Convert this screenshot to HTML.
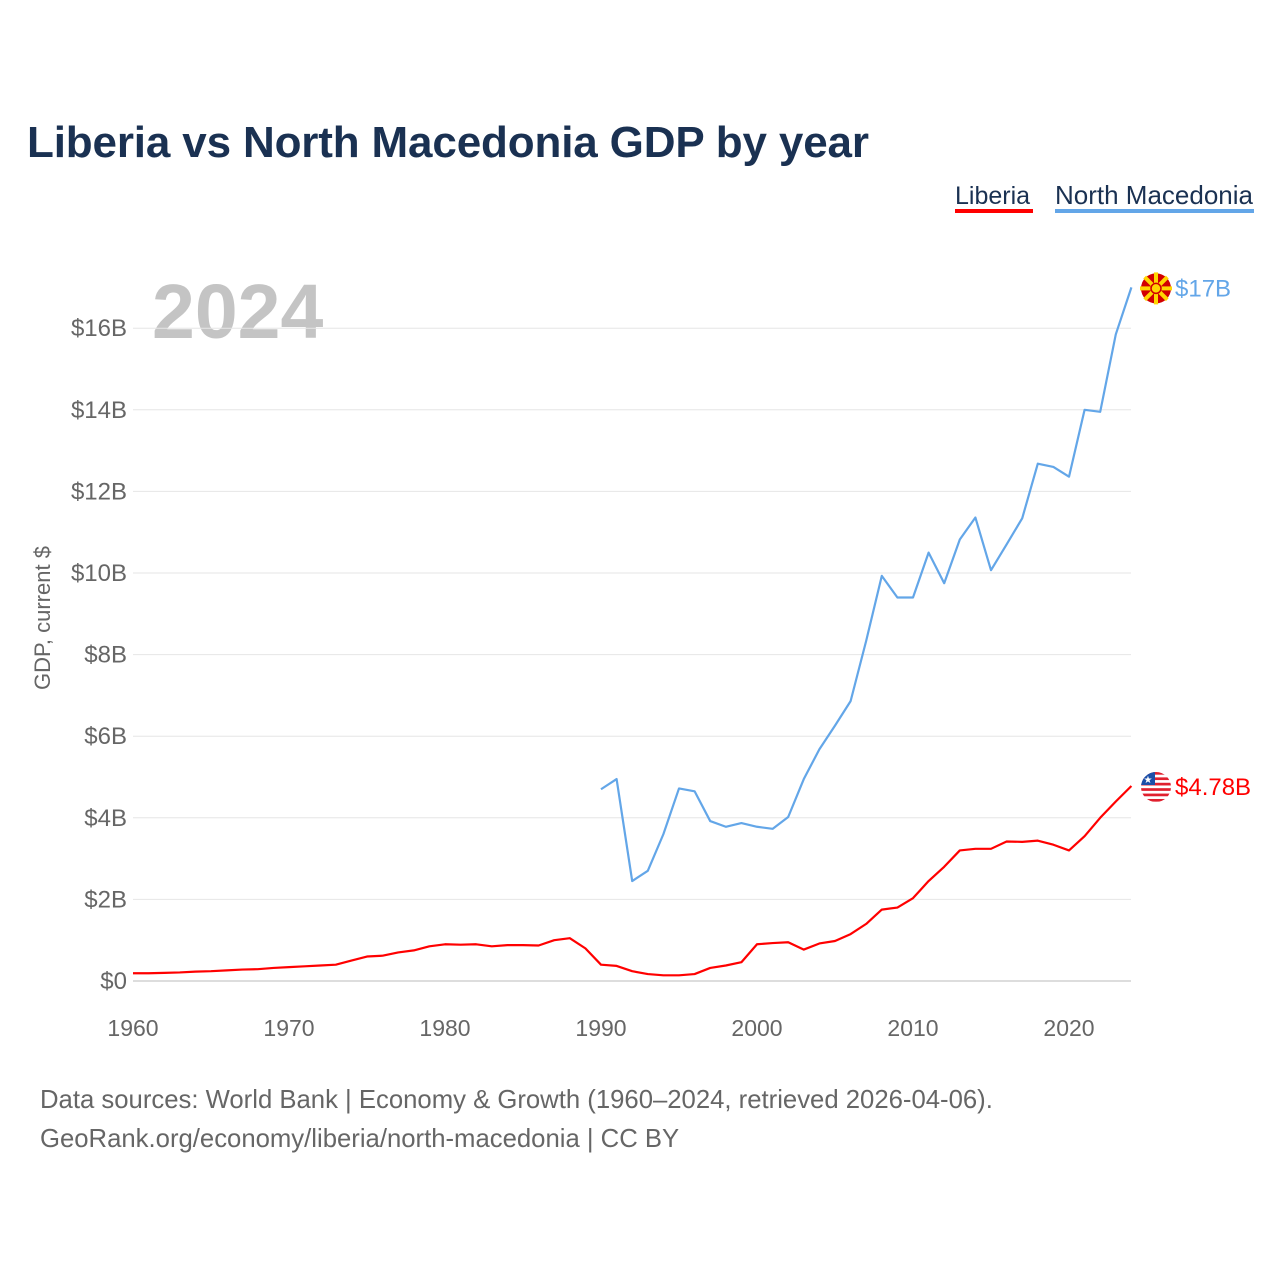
<!DOCTYPE html>
<html><head><meta charset="utf-8"><style>
body{margin:0;background:#fff;font-family:"Liberation Sans",sans-serif;}
svg{display:block}
</style></head><body>
<svg id="c" width="1280" height="1280" xmlns="http://www.w3.org/2000/svg">
<text x="27" y="157" font-size="44" font-weight="bold" fill="#1a3152" textLength="842">Liberia vs North Macedonia GDP by year</text>
<g><text x="955" y="204" font-size="25" fill="#1a3152">Liberia</text><rect x="955" y="209" width="78" height="4" fill="#ff0000"/></g>
<g><text x="1055" y="204" font-size="26" fill="#1a3152">North Macedonia</text><rect x="1055" y="209" width="199" height="4" fill="#63a6e8"/></g>
<text x="152" y="338" font-size="77" font-weight="bold" fill="#c4c4c4">2024</text>
<text transform="translate(50,618) rotate(-90)" text-anchor="middle" font-size="22" fill="#666">GDP, current $</text>
<g id="grid"></g><g id="series"></g>
<text x="40" y="1108" font-size="25.7" fill="#666">Data sources: World Bank | Economy &amp; Growth (1960–2024, retrieved 2026-04-06).</text>
<text x="40" y="1147" font-size="25.7" fill="#666">GeoRank.org/economy/liberia/north-macedonia | CC BY</text>
</svg>
<script>
const yTicks=[0,2,4,6,8,10,12,14,16];
const xTicks=[1960,1970,1980,1990,2000,2010,2020];
const liberiaYears=[];for(let y=1960;y<=2024;y++)liberiaYears.push(y);
const liberia=[0.19,0.19,0.2,0.21,0.23,0.24,0.26,0.28,0.29,0.32,0.34,0.36,0.38,0.4,0.5,0.6,0.62,0.7,0.75,0.85,0.9,0.89,0.9,0.85,0.88,0.88,0.87,1.0,1.05,0.8,0.4,0.37,0.24,0.17,0.14,0.14,0.17,0.32,0.38,0.46,0.9,0.93,0.95,0.77,0.92,0.98,1.15,1.4,1.75,1.8,2.03,2.45,2.8,3.2,3.24,3.24,3.42,3.41,3.44,3.34,3.2,3.55,4.0,4.4,4.78];
const macYears=[];for(let y=1990;y<=2024;y++)macYears.push(y);
const macedonia=[4.7,4.95,2.45,2.7,3.6,4.72,4.65,3.92,3.78,3.87,3.78,3.73,4.02,4.95,5.68,6.26,6.86,8.34,9.93,9.4,9.4,10.5,9.75,10.82,11.36,10.07,10.7,11.34,12.68,12.6,12.36,14.0,13.95,15.85,17.0];
const NS="http://www.w3.org/2000/svg";
const X=y=>133+(y-1960)*15.6, Y=v=>981-v*40.8;
const grid=document.getElementById('grid'), ser=document.getElementById('series');
function mk(tag,attrs,parent,txt){const e=document.createElementNS(NS,tag);for(const k in attrs)e.setAttribute(k,attrs[k]);if(txt!==undefined)e.textContent=txt;parent.appendChild(e);return e;}
yTicks.forEach(t=>{
 const l=mk('line',{x1:133,x2:1131,y1:Y(t),y2:Y(t),stroke:t===0?'#ddd':'#e6e6e6','stroke-width':t===0?2:1},grid);
 
 
 const tx=mk('text',{x:127,y:Y(t)+8,'text-anchor':'end','font-size':24,fill:'#666'},grid,t===0?'$0':'$'+t+'B');
 
 
});
xTicks.forEach(t=>{
 const tx=mk('text',{x:X(t),y:1036,'text-anchor':'middle','font-size':23,fill:'#666'},grid,String(t));
 
 
});
function line(xs,vs,col,name){
 const p=mk('polyline',{points:xs.map((x,i)=>X(x)+','+Y(vs[i])).join(' '),fill:'none',stroke:col,'stroke-width':2.2,'stroke-linejoin':'round'},ser);
 
 
}
line(macYears,macedonia,'#63a6e8','north-macedonia-line');
line(liberiaYears,liberia,'#ff0000','liberia-line');
const mv=macedonia[macedonia.length-1], lv=liberia[liberia.length-1];
const fm=mk('g',{},ser);


const cy1=Y(mv)+1;
mk('circle',{cx:1156,cy:cy1,r:15,fill:'#d20000'},fm);
for(let i=0;i<8;i++){const a=i*Math.PI/4;mk('line',{x1:1156,y1:cy1,x2:1156+16*Math.cos(a),y2:cy1+16*Math.sin(a),stroke:'#ffd600','stroke-width':4},fm);}
mk('circle',{cx:1156,cy:cy1,r:5,fill:'#ffd600',stroke:'#d20000','stroke-width':1.5},fm);
const ml=mk('text',{x:1175,y:Y(mv)+9,'font-size':24,fill:'#63a6e8'},ser,'$'+Math.round(mv)+'B');


const fl=mk('g',{},ser);


const cy2=Y(lv)+1;
const cp=mk('clipPath',{id:'lc'},fl);mk('circle',{cx:1156,cy:cy2,r:15},cp);
const fg=mk('g',{'clip-path':'url(#lc)'},fl);
mk('rect',{x:1141,y:cy2-15,width:30,height:30,fill:'#fff'},fg);
for(let i=0;i<6;i++)mk('rect',{x:1141,y:cy2-15+i*5.4,width:30,height:2.7,fill:'#e0202e'},fg);
mk('rect',{x:1141,y:cy2-15,width:14,height:13,fill:'#1b4fa8'},fg);
mk('text',{x:1148,y:cy2-4,'font-size':10,fill:'#fff','text-anchor':'middle'},fg,'★');
const ll=mk('text',{x:1175,y:Y(lv)+9,'font-size':24,fill:'#ff0000'},ser,'$'+lv.toFixed(2)+'B');


</script>
</body></html>
